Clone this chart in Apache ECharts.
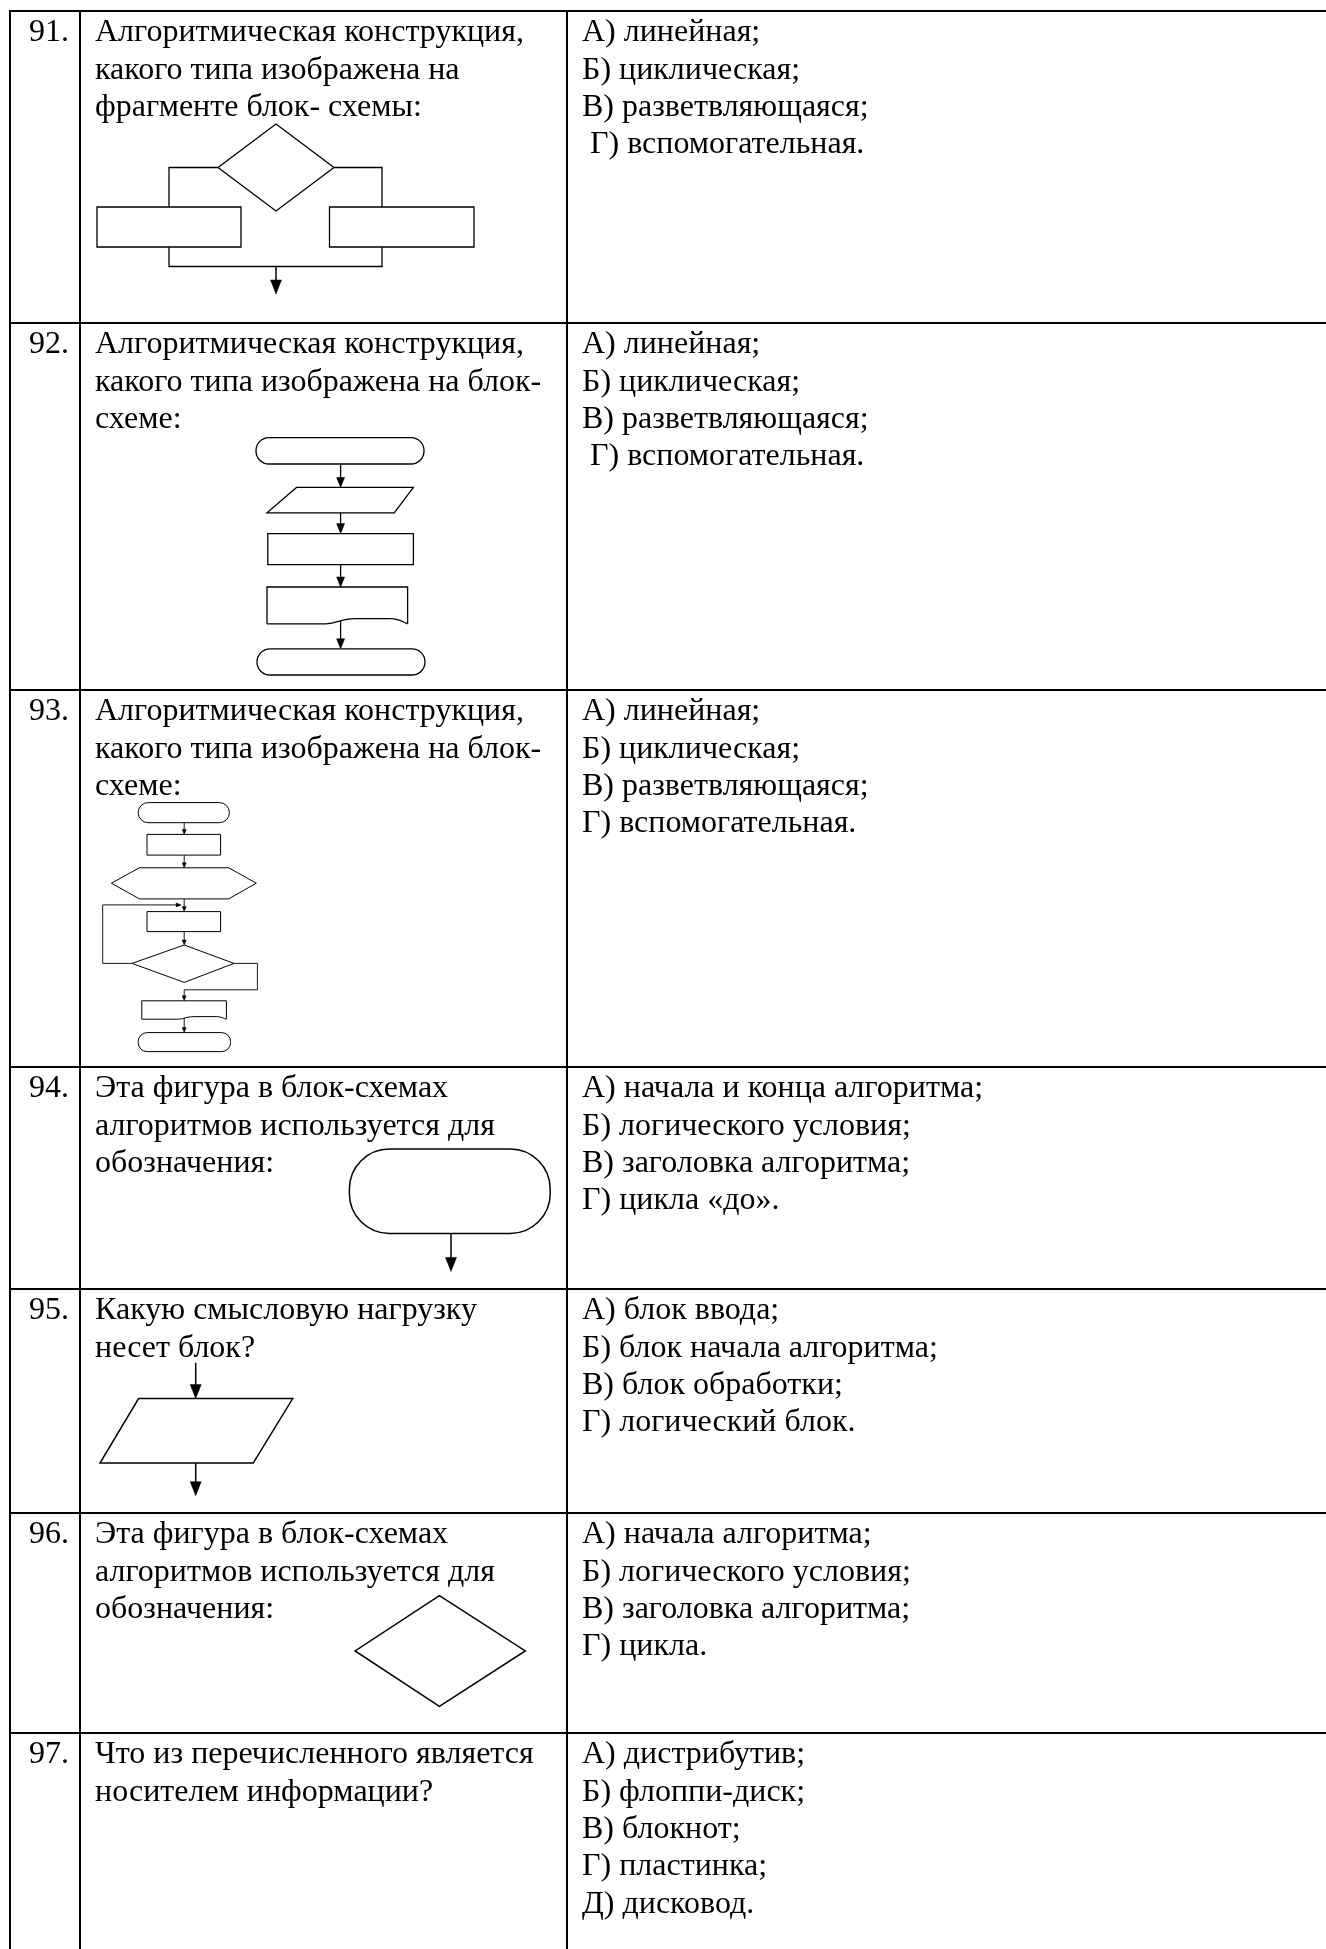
<!DOCTYPE html>
<html><head><meta charset="utf-8">
<script src="https://cdn.jsdelivr.net/npm/echarts@6/dist/echarts.min.js"></script>
<style>html,body{margin:0;padding:0;background:#fff}#c{width:1326px;height:1949px}</style>
</head><body><div id="c"></div>
<script>
// ---- DATA ----
const questionNumbers = ['91.', '92.', '93.', '94.', '95.', '96.', '97.'];
const questionTexts = [
  ['Алгоритмическая конструкция,', 'какого типа изображена на', 'фрагменте блок- схемы:'],
  ['Алгоритмическая конструкция,', 'какого типа изображена на блок-', 'схеме:'],
  ['Алгоритмическая конструкция,', 'какого типа изображена на блок-', 'схеме:'],
  ['Эта фигура в блок-схемах', 'алгоритмов используется для', 'обозначения:'],
  ['Какую смысловую нагрузку', 'несет блок?'],
  ['Эта фигура в блок-схемах', 'алгоритмов используется для', 'обозначения:'],
  ['Что из перечисленного является', 'носителем информации?']
];
const answerTexts = [
  ['А) линейная;', 'Б) циклическая;', 'В) разветвляющаяся;', ' Г) вспомогательная.'],
  ['А) линейная;', 'Б) циклическая;', 'В) разветвляющаяся;', ' Г) вспомогательная.'],
  ['А) линейная;', 'Б) циклическая;', 'В) разветвляющаяся;', 'Г) вспомогательная.'],
  ['А) начала и конца алгоритма;', 'Б) логического условия;', 'В) заголовка алгоритма;', 'Г) цикла «до».'],
  ['А) блок ввода;', 'Б) блок начала алгоритма;', 'В) блок обработки;', 'Г) логический блок.'],
  ['А) начала алгоритма;', 'Б) логического условия;', 'В) заголовка алгоритма;', 'Г) цикла.'],
  ['А) дистрибутив;', 'Б) флоппи-диск;', 'В) блокнот;', 'Г) пластинка;', 'Д) дисковод.']
];

// ---- LAYOUT ----
const W = 1326, H = 1949;
const rowTops = [11, 323, 690, 1067, 1289, 1513, 1733];
const colX = [10, 80, 567];
const FONT = '"Liberation Serif", "Times New Roman", serif';
const FS = 32, LH = 37.3, TOPOFF = 6;

const els = [];
const black = '#000';
function line(pts, w) {
  els.push({type: 'polyline', shape: {points: pts}, style: {stroke: black, lineWidth: w || 1.3, fill: null}, silent: true});
}
function poly(pts, w) {
  els.push({type: 'polygon', shape: {points: pts}, style: {stroke: black, lineWidth: w || 1.3, fill: '#fff'}, silent: true});
}
function rect(x1, y1, x2, y2, w, r) {
  els.push({type: 'rect', shape: {x: x1, y: y1, width: x2 - x1, height: y2 - y1, r: r || 0}, style: {stroke: black, lineWidth: w || 1.3, fill: '#fff'}, silent: true});
}
function head(x, y, dir, len, wid) {
  let pts;
  if (dir === 'down') pts = [[x, y], [x - wid / 2, y - len], [x + wid / 2, y - len]];
  else pts = [[x, y], [x - len, y - wid / 2], [x - len, y + wid / 2]];
  els.push({type: 'polygon', shape: {points: pts}, style: {fill: black, stroke: black, lineWidth: 0.5}, silent: true});
}
function arrowDown(x, y1, y2, w, len, wid) {
  line([[x, y1], [x, y2 - len + 1]], w);
  head(x, y2, 'down', len, wid);
}
function bez(x1, y1, c1x, c1y, c2x, c2y, x2, y2, w) {
  els.push({type: 'bezierCurve', shape: {x1: x1, y1: y1, cpx1: c1x, cpy1: c1y, cpx2: c2x, cpy2: c2y, x2: x2, y2: y2},
    style: {stroke: black, lineWidth: w, fill: null}, silent: true});
}
function doc(x1, y1, x2, y2, w) {
  w = w || 1.3;
  const wd = x2 - x1, d = (y2 - y1) * 0.14;
  line([[x1, y2], [x1, y1], [x2, y1], [x2, y2]], w);
  // wavy bottom: flat on the left, rises in the middle, drops to the right corner
  line([[x1, y2], [x1 + 0.42 * wd, y2]], w);
  bez(x1 + 0.42 * wd, y2, x1 + 0.5 * wd, y2, x1 + 0.52 * wd, y2 - d, x1 + 0.62 * wd, y2 - d, w);
  line([[x1 + 0.62 * wd, y2 - d], [x1 + 0.88 * wd, y2 - d]], w);
  bez(x1 + 0.88 * wd, y2 - d, x1 + 0.94 * wd, y2 - d, x1 + 0.97 * wd, y2 - d * 0.3, x2, y2, w);
}
function text(str, x, y, align) {
  els.push({type: 'text', silent: true, style: {text: str, x: x, y: y, fill: black,
    font: FS + 'px ' + FONT, align: align || 'left', verticalAlign: 'top'}});
}

// table grid
rowTops.forEach(function (y) { line([[colX[0] - 1, y], [W, y]], 2); });
colX.forEach(function (x) { line([[x, rowTops[0] - 1], [x, H]], 2); });

// texts
questionNumbers.forEach(function (n, i) {
  const t = rowTops[i] + TOPOFF;
  text(n, 69, t, 'right');
  questionTexts[i].forEach(function (s, j) { text(s, 95, t + j * LH); });
  answerTexts[i].forEach(function (s, j) { text(s, 582, t + j * LH); });
});

// ---- Figure 91: branching ----
line([[218, 167.5], [169, 167.5], [169, 207]]);
line([[334, 167.5], [382, 167.5], [382, 207]]);
poly([[276, 124], [334, 167.5], [276, 211], [218, 167.5]]);
rect(97, 207, 241, 247);
rect(329.5, 207, 474, 247);
line([[169, 247], [169, 266.5], [382, 266.5], [382, 247]]);
arrowDown(276, 266.5, 294, 1.5, 14, 11);

// ---- Figure 92: linear ----
rect(256, 437.6, 424, 464, 1.3, 13);
arrowDown(340.6, 464, 487.4, 1.3, 10, 8);
poly([[296.5, 487.4], [413.4, 487.4], [394.2, 512.8], [267, 512.8]]);
arrowDown(340.6, 512.8, 533.6, 1.3, 10, 8);
rect(267.8, 533.6, 413.4, 564.6);
arrowDown(340.6, 564.6, 587, 1.3, 10, 8);
doc(267, 587, 407.6, 623.8);
arrowDown(340.6, 621, 648.8, 1.3, 10, 8);
rect(257, 648.8, 425, 675, 1.3, 13);

// ---- Figure 93: cyclic ----
const cx = 184.2;
rect(138.2, 802.6, 229.4, 822.7, 1, 10);
arrowDown(cx, 822.7, 834.4, 0.9, 5, 4);
rect(147, 834.4, 220.6, 855.1, 1);
arrowDown(cx, 855.1, 867.8, 0.9, 5, 4);
poly([[111.4, 883.2], [139.4, 867.8], [228.7, 867.8], [256.3, 883.2], [228.7, 898.9], [139.4, 898.9]], 1);
arrowDown(cx, 898.9, 911.6, 0.9, 5, 4);
line([[132, 963.4], [102.7, 963.4], [102.7, 904.9], [cx - 5, 904.9]], 0.9);
head(cx - 3, 904.9, 'right', 5, 4);
rect(147, 911.6, 220.6, 931.6, 1);
arrowDown(cx, 931.6, 945, 0.9, 5, 4);
poly([[cx, 945], [234, 963.4], [cx, 982.4], [132, 963.4]], 1);
line([[234, 963.4], [257.4, 963.4], [257.4, 989.8], [cx, 989.8]], 0.9);
arrowDown(cx, 989.8, 1000.8, 0.9, 5, 4);
doc(141.8, 1000.8, 226.4, 1019.2, 1);
arrowDown(cx, 1018, 1032.6, 0.9, 5, 4);
rect(138.2, 1032.6, 230.6, 1051.6, 1, 9);

// ---- Figure 94: terminator ----
rect(349.4, 1149, 550.2, 1233.5, 1.5, 40);
arrowDown(451, 1233.5, 1271.4, 1.5, 14, 11);

// ---- Figure 95: input/output ----
arrowDown(195.7, 1362.8, 1398.6, 1.5, 14, 11);
poly([[138.6, 1398.6], [292.7, 1398.6], [253.2, 1463.1], [100, 1463.1]], 1.5);
arrowDown(195.7, 1463.1, 1495.7, 1.5, 14, 11);

// ---- Figure 96: decision ----
poly([[439.4, 1595.7], [525.3, 1650.9], [439.4, 1706.4], [355.1, 1650.9]], 1.5);

const chart = echarts.init(document.getElementById('c'), null, {renderer: 'canvas', width: W, height: H});
chart.setOption({backgroundColor: '#fff', animation: false, graphic: {elements: els}});
</script></body></html>
